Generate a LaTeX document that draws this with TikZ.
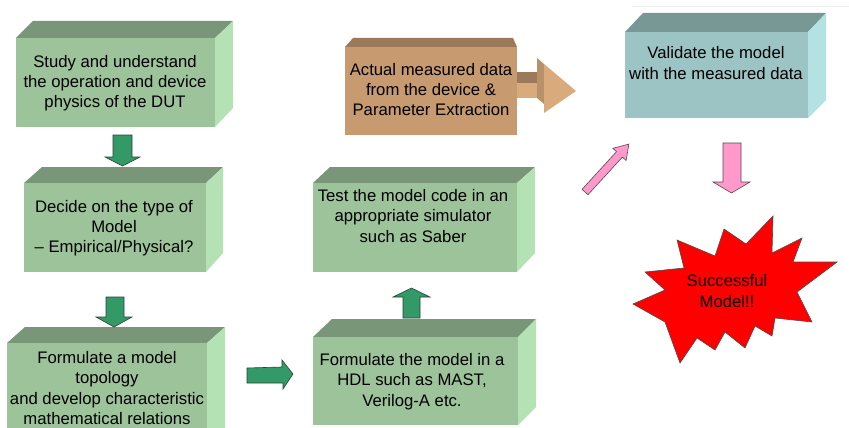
\documentclass[tikz,border=0pt]{standalone}
\usepackage{fontspec}
\setmainfont{Liberation Sans}
\definecolor{gfrontc}{RGB}{157,195,154}
\definecolor{gtopc}{RGB}{122,150,120}
\definecolor{gsidec}{RGB}{180,226,180}
\definecolor{bfrontc}{RGB}{200,154,112}
\definecolor{btopc}{RGB}{156,121,90}
\definecolor{barrowc}{RGB}{216,170,124}
\definecolor{tfrontc}{RGB}{157,196,196}
\definecolor{ttopc}{RGB}{120,152,150}
\definecolor{tsidec}{RGB}{180,226,226}
\definecolor{garrowc}{RGB}{51,153,102}
\definecolor{garrowline}{RGB}{40,70,55}
\definecolor{parrowc}{RGB}{255,153,204}
\definecolor{parrowline}{RGB}{90,70,80}
\definecolor{starc}{RGB}{255,0,0}
\newcommand\boxfont{\fontsize{16.7}{20.3}\selectfont}
\begin{document}
\begin{tikzpicture}[x=1pt,y=-1pt,
  lbl/.style={font=\boxfont, align=center, text=black, inner sep=0pt,
              execute at begin node=\strut, execute at end node=\strut},
  gfront/.style={fill=gfrontc}, gtop/.style={fill=gtopc}, gside/.style={fill=gsidec},
  garrow/.style={fill=garrowc, draw=garrowline, line width=0.6pt, line join=miter},
  parrow/.style={fill=parrowc, draw=parrowline, line width=0.6pt, line join=miter}]
\useasboundingbox (0,0) rectangle (849,428);
\clip (0,0) rectangle (849,428);
\fill[white] (0,0) rectangle (849,428);
\draw[black!7, line width=0.8pt] (632,6) -- (849,6);

% Box 1: Study
\fill[gtop] (16,38) -- (33,21) -- (233,21) -- (215,38) -- cycle;
\fill[gside] (215,38) -- (233,21) -- (233,108) -- (215,127) -- cycle;
\fill[gfront] (16,38) rectangle (215,127);
\node[lbl] (study) at (115,84.4) {Study and understand\\the operation and device\\physics of the DUT};

% Box 2: Decide
\fill[gtop] (24,183) -- (42,167) -- (223,167) -- (206,183) -- cycle;
\fill[gside] (206,183) -- (223,167) -- (223,253) -- (206,272) -- cycle;
\fill[gfront] (24,183) rectangle (206,272);
\node[lbl] (decide) at (114,229.4) {Decide on the type of\\Model\\– Empirical/Physical?};

% Box 3: Formulate topology
\fill[gtop] (7,343) -- (25,327) -- (225,327) -- (207,343) -- cycle;
\fill[gside] (207,343) -- (225,327) -- (225,430) -- (207,445) -- cycle;
\fill[gfront] (7,343) rectangle (207,445);
\node[lbl] (topo) at (107,390.9) {Formulate a model\\topology\\and develop characteristic\\mathematical relations};

% Box 4: HDL
\fill[gtop] (313,337) -- (332,319) -- (536,319) -- (518,337) -- cycle;
\fill[gside] (518,337) -- (536,319) -- (536,407) -- (518,425) -- cycle;
\fill[gfront] (313,337) rectangle (518,425);
\node[lbl] (hdl) at (412,382.9) {Formulate the model in a\\HDL such as MAST,\\Verilog-A etc.};

% Box 5: Test
\fill[gtop] (313,183) -- (330,167) -- (535,167) -- (517,183) -- cycle;
\fill[gside] (517,183) -- (535,167) -- (535,253) -- (517,272) -- cycle;
\fill[gfront] (313,183) rectangle (517,272);
\node[lbl] (test) at (413,218.9) {Test the model code in an\\appropriate simulator\\such as Saber};

% Box 6: Measured data (brown)
\fill[btopc] (345,47) -- (353,38) -- (513,38) -- (517,47) -- cycle;
\fill[bfrontc] (345,47) rectangle (517,135);
\node[lbl] (meas) at (431,92.4) {Actual measured data\\from the device \&\\Parameter Extraction};
% brown 3D arrow
\fill[btopc] (517,72) rectangle (543,83);
\fill[barrowc] (517,83) rectangle (543,98);
\fill[barrowc!85!black] (537,58) -- (544,64) -- (544,104) -- (537,98) -- cycle;
\fill[barrowc] (544,64) -- (576,91) -- (544,113) -- cycle;

% Box 7: Validate (teal)
\fill[ttopc] (625,32) -- (643,13) -- (826,13) -- (808,32) -- cycle;
\fill[tsidec] (808,32) -- (826,13) -- (826,100) -- (808,118) -- cycle;
\fill[tfrontc] (625,32) rectangle (808,118);
\node[lbl] (valid) at (716,65.9) {Validate the model\\with the measured data};

% Green block arrows
\filldraw[garrow] (113,135) -- (132,135) -- (132,157) -- (140,157) -- (122.5,166) -- (105,157) -- (113,157) -- cycle;
\filldraw[garrow] (106,297) -- (124,297) -- (124,317) -- (132,317) -- (114,327) -- (96,317) -- (106,317) -- cycle;
\filldraw[garrow] (247,368) -- (282,367) -- (282,360) -- (293,374) -- (283,389) -- (283,383) -- (247,383) -- cycle;
\filldraw[garrow] (403,318) -- (403,297) -- (393,297) -- (411.5,288) -- (430,297) -- (420,297) -- (420,318) -- cycle;

% Pink arrows
\filldraw[parrow] (723,143) -- (741,143) -- (741,182) -- (750,182) -- (731.5,193) -- (713,182) -- (723,182) -- cycle;
\begin{scope}[shift={(585,192)}, rotate=47.5]
\filldraw[parrow] (0,-4) -- (51,-4) -- (51,-9) -- (65,0) -- (51,9) -- (51,4) -- (0,4) -- cycle;
\end{scope}

% Star
\filldraw[fill=starc, draw=black!70, line width=0.6pt, line join=miter]
 (773,216) -- (772,253) -- (802,238) -- (793,262) -- (837,262) -- (797,292) --
 (812,322) -- (775,318) -- (772,336) -- (755,326) -- (745,348) -- (725,332) --
 (715,350) -- (697,338) -- (680,363) -- (665,322) -- (633,304) -- (665,290) --
 (645,272) -- (684,268) -- (677,240) -- (715,256) -- (724,229) -- (746,244) -- cycle;
\node[lbl] (success) at (727,293.9) {Successful\\Model!!};
\end{tikzpicture}
\end{document}
